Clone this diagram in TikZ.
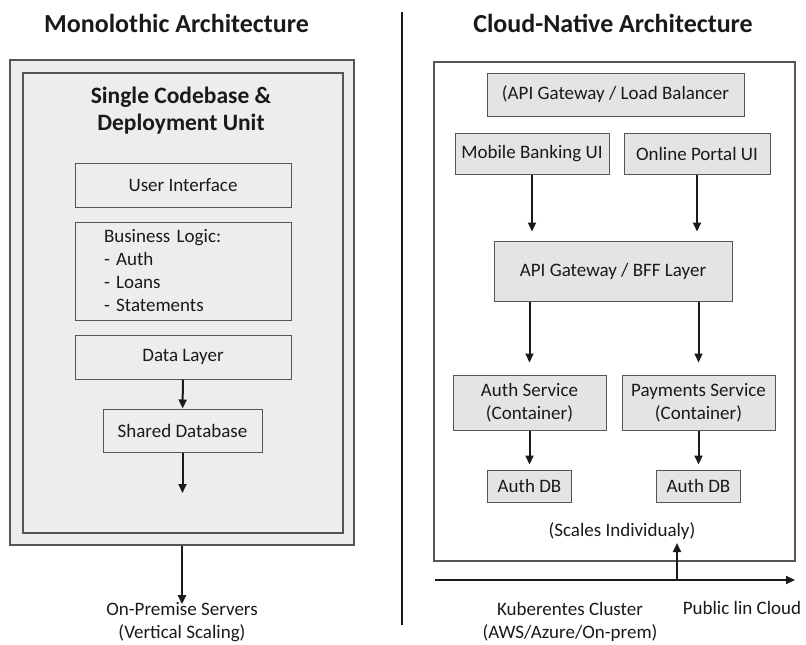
\documentclass[tikz,border=0pt]{standalone}
\usepackage{fontspec}
\setmainfont{Carlito}
\usetikzlibrary{arrows.meta, positioning}
\definecolor{BoxGray}{HTML}{E4E4E4}
\definecolor{PanelGray}{HTML}{EDEDED}
\definecolor{EdgeGray}{HTML}{555555}
\definecolor{InkBlack}{HTML}{1A1A1A}

\begin{document}
\begin{tikzpicture}[
  x=1pt, y=-1pt,
  every node/.style={font=\fontsize{19}{23}\selectfont, text=InkBlack},
  heading/.style={font=\fontsize{26}{30}\selectfont\bfseries, anchor=base},
  subheading/.style={font=\fontsize{23.5}{27}\selectfont\bfseries, align=center},
  panelbox/.style={draw=EdgeGray, line width=1.2pt, fill=PanelGray, inner sep=0pt},
  layerbox/.style={draw=EdgeGray, line width=1pt, fill=PanelGray, align=center, inner sep=0pt},
  svcbox/.style={draw=EdgeGray, line width=1pt, fill=BoxGray, align=center, inner sep=0pt},
  arr/.style={-{Triangle[length=9pt,width=8pt]}, line width=2pt, draw=InkBlack}
]
  \useasboundingbox[fill=white] (0,0) rectangle (806,645);

  %% Monolithic side
  \node[heading] (monotitle) at (176.5,32) {Monolothic Architecture};
  \node[panelbox, minimum width=344pt, minimum height=485pt] (mono) at (182,302.5) {};
  \node[panelbox, minimum width=320pt, minimum height=460pt] (unit) at (183,303) {};
  \node[subheading] (unittitle) at (181,111) {Single Codebase \&\\Deployment Unit};

  \node[layerbox, minimum width=216pt, minimum height=44pt] (ui)    at (183,185) {User Interface};
  \node[layerbox, minimum width=216pt, minimum height=98pt, text width=158pt,
        inner xsep=29pt, align=left] (logic) at (183,271)
        {Business Logic:\\- Auth\\- Loans\\- Statements};
  \node[layerbox, minimum width=216pt, minimum height=44pt] (data)  at (183,357) {Data Layer};
  \node[layerbox, minimum width=159pt, minimum height=43pt] (shdb)  at (182.5,430.5) {Shared Database};
  \coordinate (dbout) at (182.5,493);

  \node[align=center, inner sep=0pt] (onprem) at (182,622) {On-Premise Servers\\(Vertical Scaling)};

  \draw[arr] (data) -- (shdb);
  \draw[arr] (shdb) -- (dbout);
  \draw[arr] (mono.south) -- ([yshift=-2pt]onprem.north);

  %% Divider
  \draw[line width=1.6pt, draw=InkBlack] (402,12) -- (402,625);

  %% Cloud-native side
  \node[heading] (cloudtitle) at (613,32) {Cloud-Native Architecture};
  \node[draw=EdgeGray, line width=1.2pt, fill=white, minimum width=361pt,
        minimum height=499pt, inner sep=0pt] (cluster) at (614.5,311.5) {};

  \node[svcbox, minimum width=257pt, minimum height=43pt] (lb)     at (615.5,94.5) {(API Gateway / Load Balancer};
  \node[svcbox, minimum width=154pt, minimum height=41pt] (mobile) at (532,153.5) {Mobile Banking UI};
  \node[svcbox, minimum width=146pt, minimum height=41pt] (portal) at (697,153.5) {Online Portal UI};
  \node[svcbox, minimum width=238pt, minimum height=60pt] (bff)    at (613,271) {API Gateway / BFF Layer};
  \node[svcbox, minimum width=153pt, minimum height=55pt] (auth)   at (529.5,402.5) {Auth Service\\(Container)};
  \node[svcbox, minimum width=153pt, minimum height=55pt] (pay)    at (698.5,402.5) {Payments Service\\(Container)};
  \node[svcbox, minimum width=84pt,  minimum height=32pt] (authdb) at (529.5,486) {Auth DB};
  \node[svcbox, minimum width=84pt,  minimum height=32pt] (paydb)  at (698.5,486) {Auth DB};
  \node (scales) at (622,531) {(Scales Individualy)};

  \draw[arr, shorten >=9pt]  (mobile.south) -- (mobile.south |- bff.north);
  \draw[arr, shorten >=9pt]  (portal.south) -- (portal.south |- bff.north);
  \draw[arr, shorten >=12pt] (auth.north |- bff.south) -- (auth.north);
  \draw[arr, shorten >=12pt] (pay.north |- bff.south) -- (pay.north);
  \draw[arr, shorten >=5pt]  (auth) -- (authdb);
  \draw[arr, shorten >=5pt]  (pay) -- (paydb);

  %% Cluster axis
  \coordinate (axisL) at (435,580);
  \coordinate (axisR) at (795,580);
  \coordinate (tap)   at (677,580);
  \draw[arr] (axisL) -- (axisR);
  \draw[arr] (tap) -- (tap |- scales.south);

  \node[align=center, inner sep=0pt] (kube)   at (570,622) {Kuberentes Cluster\\(AWS/Azure/On-prem)};
  \node (public) at (742,608) {Public lin Cloud};
\end{tikzpicture}
\end{document}
